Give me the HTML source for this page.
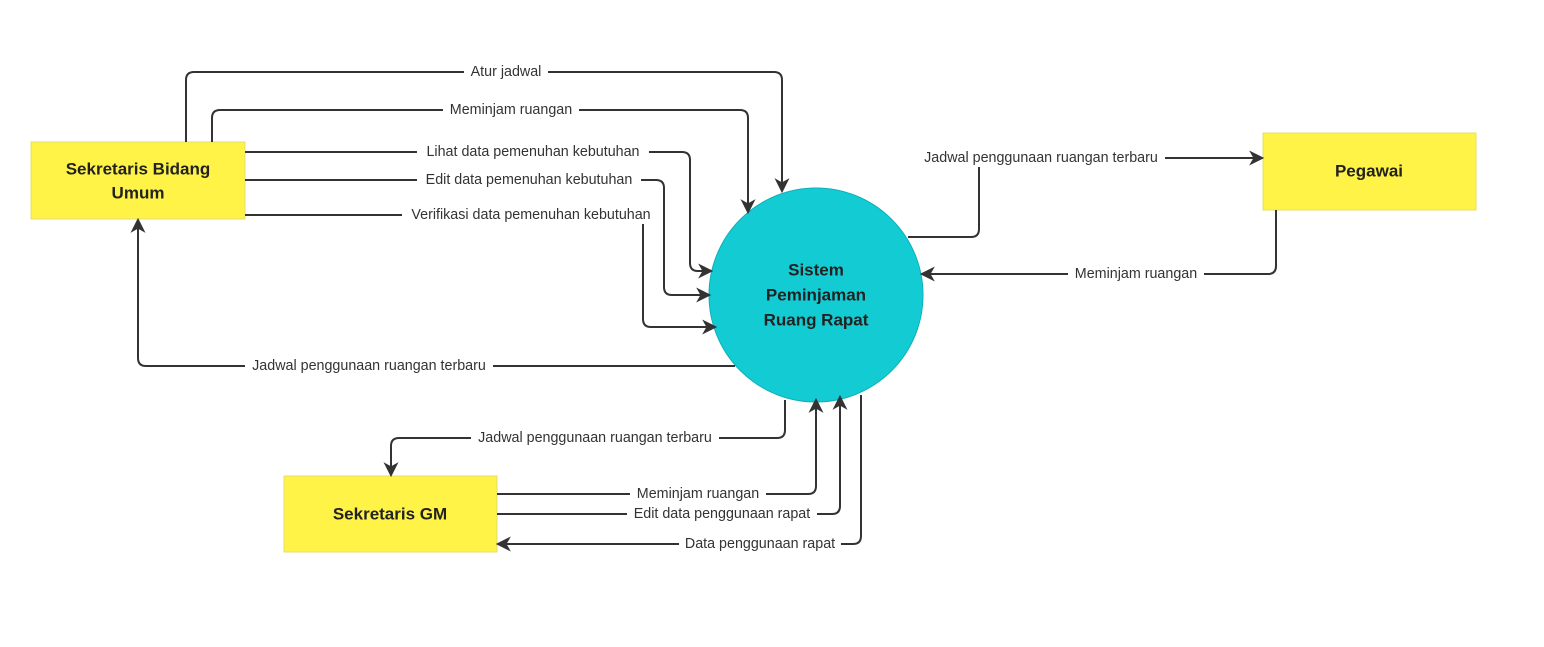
<!DOCTYPE html>
<html><head><meta charset="utf-8"><style>
html,body{margin:0;padding:0;background:#fff;}
svg{display:block;}
text{font-family:"Liberation Sans",sans-serif;}
.l{font-size:14.3px;fill:#333;text-anchor:middle;dominant-baseline:central;}
.b{font-size:17px;font-weight:bold;fill:#222;text-anchor:middle;dominant-baseline:central;}
path.c{fill:none;stroke:#333;stroke-width:2;stroke-linejoin:round;}
</style></head><body>
<svg width="1544" height="647" viewBox="0 0 1544 647">
<defs>
<marker id="a" viewBox="0 0 14 14" refX="12" refY="7" markerWidth="15" markerHeight="15" markerUnits="userSpaceOnUse" orient="auto">
<path d="M0,0 L14,7 L0,14 L4,7 Z" fill="#333"/>
</marker>
</defs>
<rect x="31" y="142" width="214" height="77" fill="#fff347" stroke="#e6dc6a"/>
<text class="b" x="138" y="169">Sekretaris Bidang</text>
<text class="b" x="138" y="193">Umum</text>
<rect x="1263" y="133" width="213" height="77" fill="#fff347" stroke="#e6dc6a"/>
<text class="b" x="1369" y="171">Pegawai</text>
<rect x="284" y="476" width="213" height="76" fill="#fff347" stroke="#e6dc6a"/>
<text class="b" x="390" y="514">Sekretaris GM</text>
<circle cx="816" cy="295" r="107" fill="#13cbd3" stroke="#10b0b8"/>
<text class="b" x="816" y="270">Sistem</text>
<text class="b" x="816" y="295">Peminjaman</text>
<text class="b" x="816" y="320">Ruang Rapat</text>

<path class="c" d="M186,142 V80 Q186,72 194,72 H774 Q782,72 782,80 V191" marker-end="url(#a)"/>
<path class="c" d="M212,142 V118 Q212,110 220,110 H740 Q748,110 748,118 V212" marker-end="url(#a)"/>
<path class="c" d="M245,152 H682 Q690,152 690,160 V263 Q690,271 698,271 H711" marker-end="url(#a)"/>
<path class="c" d="M245,180 H656 Q664,180 664,188 V287 Q664,295 672,295 H709" marker-end="url(#a)"/>
<path class="c" d="M245,215 H643 V319 Q643,327 651,327 H715" marker-end="url(#a)"/>
<path class="c" d="M735,366 H146 Q138,366 138,358 V220" marker-end="url(#a)"/>
<path class="c" d="M908,237 H971 Q979,237 979,229 V166 Q979,158 987,158 H1262" marker-end="url(#a)"/>
<path class="c" d="M1276,210 V266 Q1276,274 1268,274 H922" marker-end="url(#a)"/>
<path class="c" d="M785,400 V430 Q785,438 777,438 H399 Q391,438 391,446 V475" marker-end="url(#a)"/>
<path class="c" d="M497,494 H808 Q816,494 816,486 V400" marker-end="url(#a)"/>
<path class="c" d="M497,514 H832 Q840,514 840,506 V397" marker-end="url(#a)"/>
<path class="c" d="M861,395 V536 Q861,544 853,544 H498" marker-end="url(#a)"/>

<g>
<rect x="464" y="63" width="84" height="18" fill="#fff"/><text class="l" x="506" y="72">Atur jadwal</text>
<rect x="443" y="101" width="136" height="18" fill="#fff"/><text class="l" x="511" y="110">Meminjam ruangan</text>
<rect x="417" y="143" width="232" height="18" fill="#fff"/><text class="l" x="533" y="152">Lihat data pemenuhan kebutuhan</text>
<rect x="417" y="171" width="224" height="18" fill="#fff"/><text class="l" x="529" y="180">Edit data pemenuhan kebutuhan</text>
<rect x="402" y="206" width="258" height="18" fill="#fff"/><text class="l" x="531" y="215">Verifikasi data pemenuhan kebutuhan</text>
<rect x="245" y="357" width="248" height="18" fill="#fff"/><text class="l" x="369" y="366">Jadwal penggunaan ruangan terbaru</text>
<rect x="917" y="149" width="248" height="18" fill="#fff"/><text class="l" x="1041" y="158">Jadwal penggunaan ruangan terbaru</text>
<rect x="1068" y="265" width="136" height="18" fill="#fff"/><text class="l" x="1136" y="274">Meminjam ruangan</text>
<rect x="471" y="429" width="248" height="18" fill="#fff"/><text class="l" x="595" y="438">Jadwal penggunaan ruangan terbaru</text>
<rect x="630" y="485" width="136" height="18" fill="#fff"/><text class="l" x="698" y="494">Meminjam ruangan</text>
<rect x="627" y="505" width="190" height="18" fill="#fff"/><text class="l" x="722" y="514">Edit data penggunaan rapat</text>
<rect x="679" y="535" width="162" height="18" fill="#fff"/><text class="l" x="760" y="544">Data penggunaan rapat</text>
</g>
</svg>
</body></html>
